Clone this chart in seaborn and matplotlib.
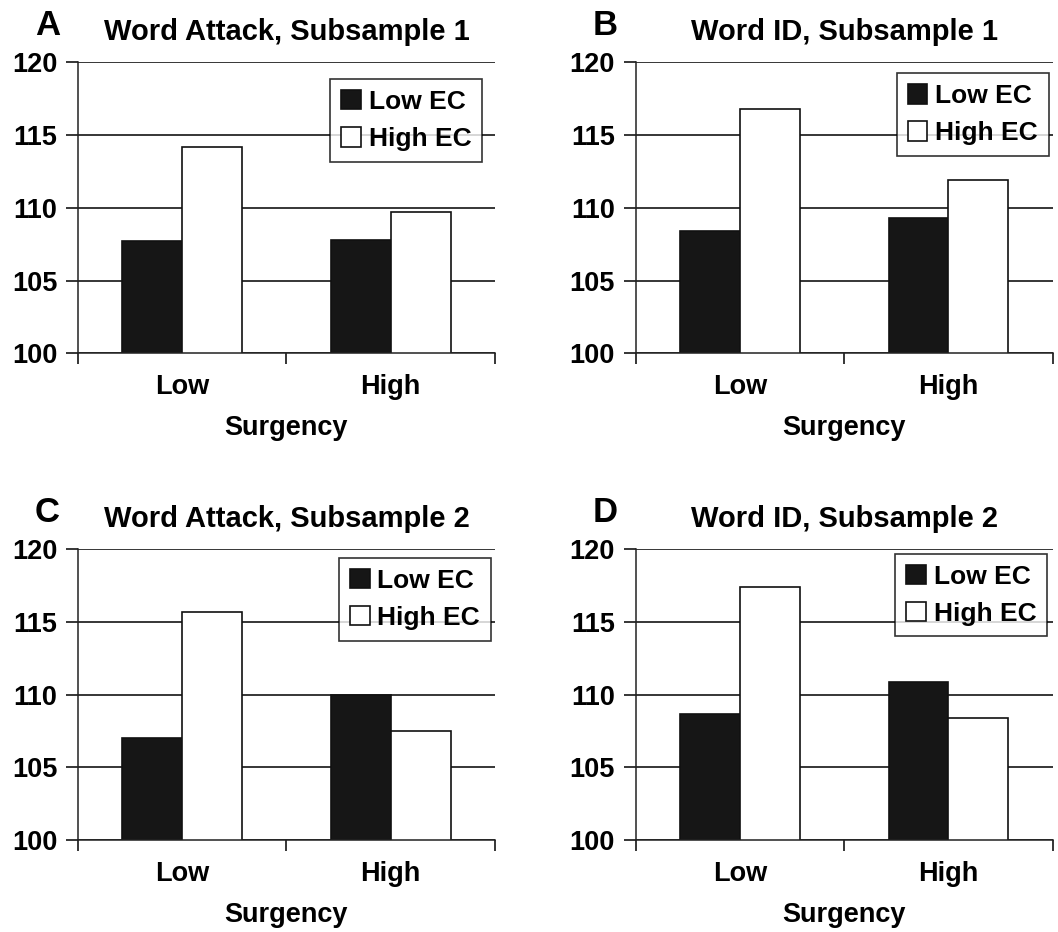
import pandas as pd
import numpy as np
import matplotlib.pyplot as plt
import seaborn as sns

# values
surgency = ["Low", "High"]
ec_groups = ["Low EC", "High EC"]

wa1_low_ec = [107.7, 107.8]
wa1_high_ec = [114.2, 109.7]
wid1_low_ec = [108.4, 109.3]
wid1_high_ec = [116.8, 111.9]
wa2_low_ec = [107.0, 110.0]
wa2_high_ec = [115.7, 107.5]
wid2_low_ec = [108.7, 110.9]
wid2_high_ec = [117.4, 108.4]

titles = ["Word Attack, Subsample 1", "Word ID, Subsample 1",
          "Word Attack, Subsample 2", "Word ID, Subsample 2"]
letters = ["A", "B", "C", "D"]
yticks = [100, 105, 110, 115, 120]

sns.set_style("white")
plt.rcParams['font.family'] = ['Liberation Sans', 'DejaVu Sans']
plt.rcParams['font.weight'] = 'bold'
for key in ['text.color', 'axes.labelcolor', 'xtick.color', 'ytick.color']:
    plt.rcParams[key] = 'black'

panels = [(wa1_low_ec, wa1_high_ec), (wid1_low_ec, wid1_high_ec),
          (wa2_low_ec, wa2_high_ec), (wid2_low_ec, wid2_high_ec)]

# axes rectangles and legend anchors (figure / axes fractions)
rects = [[0.0737, 0.621, 0.394, 0.312], [0.601, 0.621, 0.394, 0.312],
         [0.0737, 0.0987, 0.394, 0.312], [0.601, 0.0987, 0.394, 0.312]]
leg_anchor = [(0.969, 0.942), (0.990, 0.962), (0.990, 0.969), (0.986, 0.983)]

fig = plt.figure(figsize=(10.58, 9.32), dpi=100)

for i, (lo, hi) in enumerate(panels):
    ax = fig.add_axes(rects[i])
    df = pd.DataFrame({
        "Surgency": surgency * 2,
        "EC": [ec_groups[0]] * 2 + [ec_groups[1]] * 2,
        "Score": lo + hi,
    })
    sns.barplot(data=df, x="Surgency", y="Score", hue="EC", order=surgency,
                hue_order=ec_groups, palette=["#161616", "white"],
                edgecolor="#111111", linewidth=1.2, width=0.575,
                errorbar=None, ax=ax, saturation=1)
    ax.set_ylim(100, 120)
    ax.set_xlim(-0.5, 1.5)
    ax.set_yticks(yticks)
    ax.yaxis.grid(True, color="black", linewidth=1.1)
    ax.set_axisbelow(True)
    for s in ["top", "right"]:
        ax.spines[s].set_visible(False)
    for s in ["left", "bottom"]:
        ax.spines[s].set_color("#222222")
        ax.spines[s].set_linewidth(1.1)
    ax.tick_params(axis="y", which="major", left=True, length=9, width=1.1,
                   direction="out", pad=6, labelsize=19.5)
    ax.tick_params(axis="x", which="major", length=0, pad=15, labelsize=19.5)
    ax.set_xticks([-0.5, 0.5, 1.5], minor=True)
    ax.tick_params(axis="x", which="minor", bottom=True, length=8, width=1.1,
                   direction="out")
    for lab in ax.get_xticklabels() + ax.get_yticklabels():
        lab.set_fontweight("bold")
    ax.set_xlabel("Surgency", fontsize=19.5, fontweight="bold", labelpad=11)
    ax.set_ylabel("")
    ax.set_title(titles[i], fontsize=21, fontweight="bold", pad=16)
    ax.text(-0.073, 1.095, letters[i], transform=ax.transAxes, fontsize=25,
            fontweight="bold", ha="center", va="baseline")
    leg = ax.legend(loc="upper right", bbox_to_anchor=leg_anchor[i],
                    frameon=True, fancybox=False, edgecolor="black",
                    fontsize=19, handlelength=0.75, handleheight=0.75,
                    handletextpad=0.3, borderpad=0.4, labelspacing=0.5,
                    borderaxespad=0)
    leg.get_frame().set_linewidth(1.2)
    for t in leg.get_texts():
        t.set_fontweight("bold")
        t.set_color("black")

fig.savefig("out.png", dpi=100, facecolor="white")
